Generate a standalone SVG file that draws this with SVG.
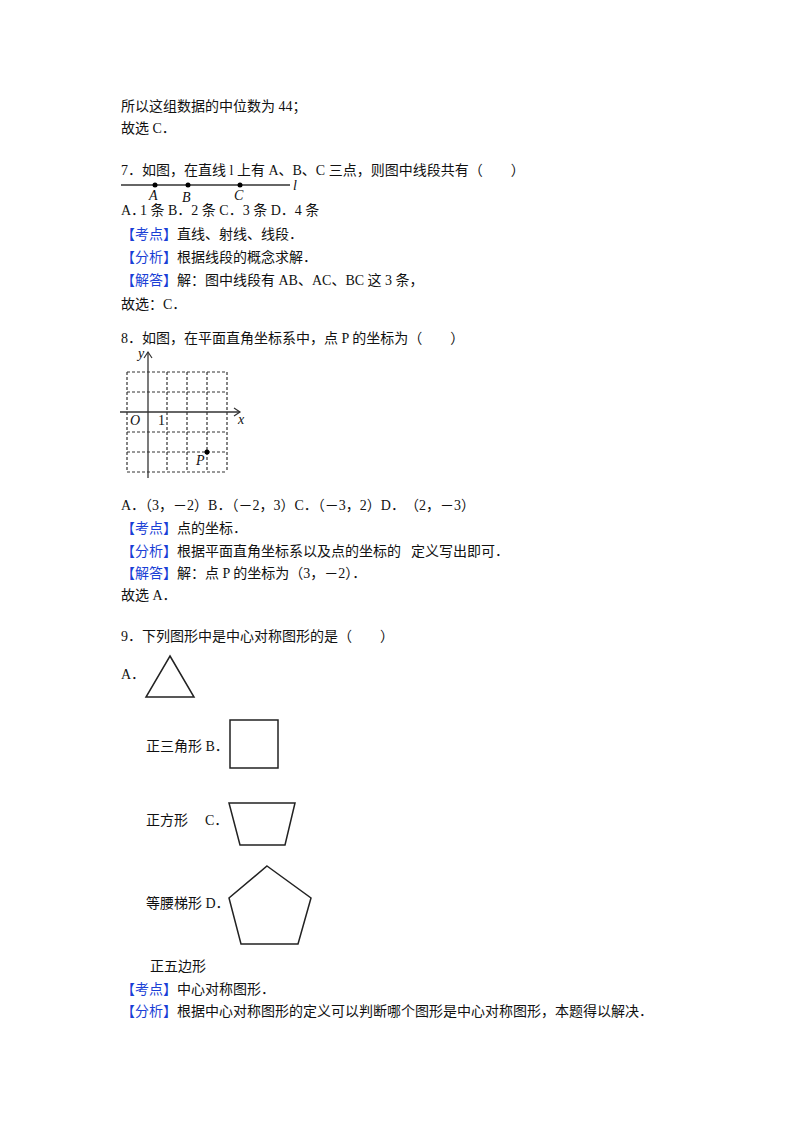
<svg xmlns="http://www.w3.org/2000/svg" width="800" height="1132" viewBox="0 0 800 1132">
<style>
text{font-family:"Liberation Serif","Noto Sans CJK SC",serif;font-size:14px;fill:#111}
.b{fill:#1a3fd6}
.i{font-style:italic}
.g{stroke:#333;stroke-width:1.2;stroke-dasharray:3,2;fill:none}
.s{stroke:#222;stroke-width:1.5;fill:none}
</style>
<rect width="800" height="1132" fill="#fff"/>
<g id="text">
<text x="121" y="111">所以这组数据的中位数为 44；</text>
<text x="121" y="133">故选 C．</text>
<text x="121" y="175">7．如图，在直线 l 上有 A、B、C 三点，则图中线段共有（　　）</text>
<text x="121" y="215">A．</text><text x="140" y="215">1 条 B．2 条 C．3 条 D．4 条</text>
<text x="121" y="239"><tspan class="b">【考点】</tspan>直线、射线、线段．</text>
<text x="121" y="262"><tspan class="b">【分析】</tspan>根据线段的概念求解．</text>
<text x="121" y="285"><tspan class="b">【解答】</tspan>解：图中线段有 AB、AC、BC 这 3 条，</text>
<text x="121" y="309">故选：C．</text>
<text x="121" y="343">8．如图，在平面直角坐标系中，点 P 的坐标为（　　）</text>
<text x="121" y="510">A．（3，－2）B．（－2，3）C．（－3，2）D．</text><text x="405" y="510">（2，－3）</text>
<text x="121" y="533"><tspan class="b">【考点】</tspan>点的坐标．</text>
<text x="121" y="556"><tspan class="b">【分析】</tspan>根据平面直角坐标系以及点的坐标的</text><text x="411" y="556">定义写出即可．</text>
<text x="121" y="578"><tspan class="b">【解答】</tspan>解：点 P 的坐标为（3，－2）．</text>
<text x="121" y="600">故选 A．</text>
<text x="121" y="641">9．下列图形中是中心对称图形的是（　　）</text>
<text x="121" y="679">A．</text>
<text x="146" y="751">正三角形  B．</text>
<text x="146" y="825">正方形</text><text x="205" y="825">C．</text>
<text x="146" y="908">等腰梯形  D．</text>
<text x="150" y="971">正五边形</text>
<text x="121" y="994"><tspan class="b">【考点】</tspan>中心对称图形．</text>
<text x="121" y="1016"><tspan class="b">【分析】</tspan>根据中心对称图形的定义可以判断哪个图形是中心对称图形，本题得以解决．</text>
</g>
<g id="line-figure">
<line x1="121" y1="185" x2="290" y2="185" stroke="#333" stroke-width="1.5"/>
<circle cx="155" cy="185" r="2.5"/><circle cx="188" cy="185" r="2.5"/><circle cx="240" cy="185" r="2.5"/>
<text class="i" x="149" y="200" font-size="12">A</text>
<text class="i" x="182" y="202" font-size="12">B</text>
<text class="i" x="234" y="200" font-size="12">C</text>
<text class="i" x="293" y="190" font-size="12">l</text>
</g>
<g id="grid">
<path class="g" d="M127 372H227M127 392H227M127 432H227M127 452H227M127 472H227M127 372V472M167 372V472M187 372V472M207 372V472M227 372V472"/>
<line x1="120" y1="412" x2="240" y2="412" stroke="#333" stroke-width="1.3"/>
<line x1="148" y1="478" x2="148" y2="352" stroke="#333" stroke-width="1.3"/>
<path d="M234 408L240 412L234 416M144 358L148 352L152 358" fill="none" stroke="#333" stroke-width="1.2"/>
<circle cx="207" cy="452" r="2.5"/>
<text class="i" x="138" y="358" font-size="12">y</text>
<text class="i" x="130" y="425" font-size="12">O</text>
<text x="158" y="425" font-size="12">1</text>
<text class="i" x="238" y="424" font-size="12">x</text>
<text class="i" x="196" y="465" font-size="12">P</text>
</g>
<g id="shapes">
<polygon class="s" points="170,656 194,697 146,697"/>
<rect class="s" x="230" y="720" width="48" height="48"/>
<polygon class="s" points="229,803 295,803 285,845 240,845"/>
<polygon class="s" points="267,866 311,898 298,944 241,944 229,898"/>
</g>
</svg>
